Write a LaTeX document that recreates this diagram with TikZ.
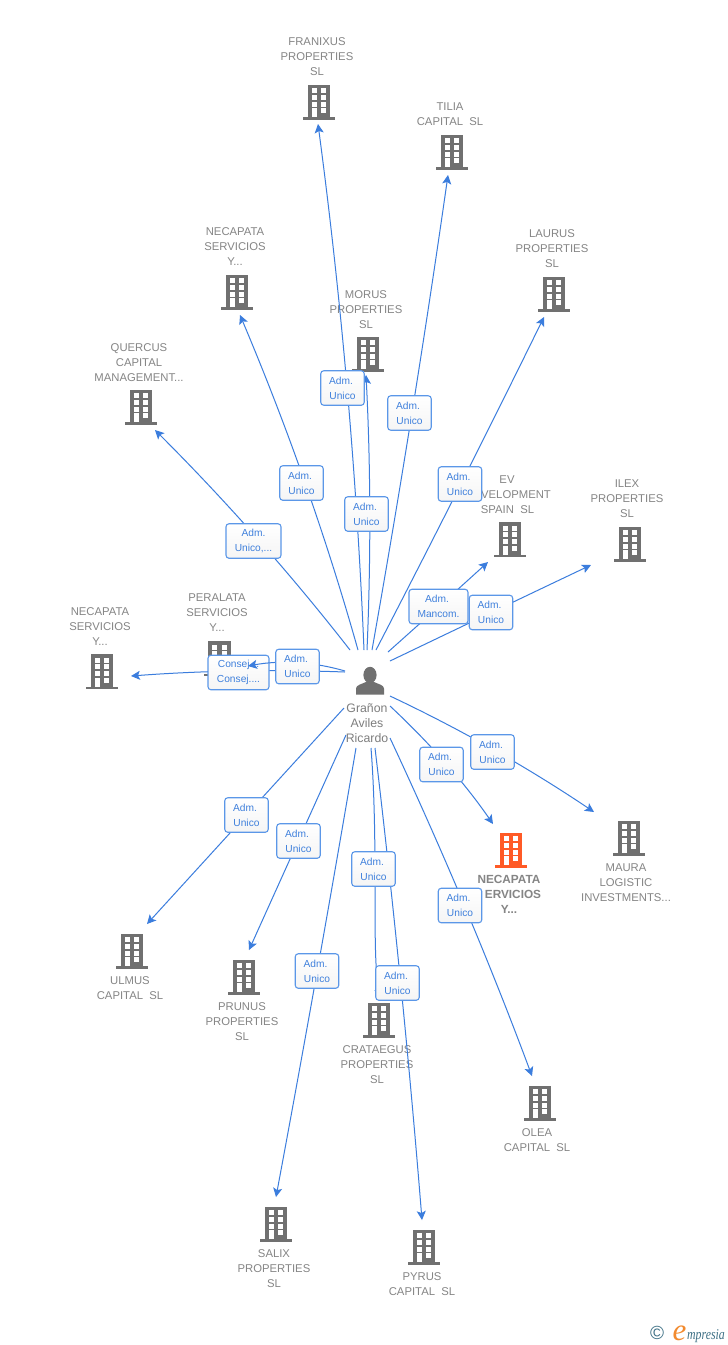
\documentclass[tikz,border=0pt]{standalone}
\usepackage{fontspec}
\setmainfont{Liberation Sans}
\newfontfamily\logofont{Liberation Serif}
\usetikzlibrary{arrows.meta,calc}
\definecolor{edgeblue}{HTML}{3B7DDD}
\definecolor{boxblue}{HTML}{5B97E8}
\definecolor{labblue}{HTML}{3F80DC}
\definecolor{bgray}{HTML}{707070}
\definecolor{tgray}{HTML}{858585}
\definecolor{redorg}{HTML}{FF5A26}
\definecolor{logoteal}{HTML}{3F7186}
\definecolor{logoorg}{HTML}{F28A2E}
\tikzset{
  conn/.style={draw=edgeblue,line width=1pt,-{Stealth[length=9pt,width=9pt,inset=2pt]}},
  lab/.style={draw=boxblue,line width=1.1pt,rounded corners=3pt,top color=white,bottom color=white!96!black,
    text=labblue,inner sep=0pt,align=center,font=\fontsize{10.2}{14.8}\selectfont,minimum height=34.5pt},
  nm/.style={text=tgray,align=center,inner sep=0pt,yshift=-1pt,font=\fontsize{11.3}{15}\selectfont},
  nmb/.style={text=tgray,inner sep=0pt,font=\bfseries\fontsize{11.8}{15}\selectfont},
  pers/.style={text=bgray!90,align=center,inner sep=0pt,font=\fontsize{12.3}{15}\selectfont},
  anchorbox/.style={inner sep=0pt,minimum width=31pt,minimum height=35pt},
}
\newcommand{\building}[4]{%
  \node[anchorbox] (#1) at (#2,#3) {};
  \begin{scope}[shift={(#2,#3)}]
    \fill[#4] (-11.3,-17.5) rectangle (11.3,15.2);
    \fill[#4] (-15.7,15.2) rectangle (15.7,17.5);
    \foreach \yy in {-13.6,-7.1,-0.3}{
      \fill[white] (-7.1,\yy) rectangle ++(4.8,4.9);
      \fill[white] (2.4,\yy) rectangle ++(4.8,4.9);
    }
    \fill[white] (2.4,6.4) rectangle ++(4.8,4.9);
    \fill[white] (-7.1,6.4) rectangle (-2.3,15.2);
  \end{scope}}
\newcommand{\edgeq}[4]{%
  \coordinate (#1s) at (#2);
  \coordinate (#1c) at (#3);
  \coordinate (#1e) at (#4);
  \draw[conn] (#1s) .. controls ($(#1s)!0.667!(#1c)$) and ($(#1e)!0.667!(#1c)$) .. (#1e);}
\begin{document}
\begin{tikzpicture}[x=1pt,y=-1pt]
\fill[white] (0,0) rectangle (728,1345);
\useasboundingbox (0,0) rectangle (728,1345);
% buildings
\building{franixus}{319}{102}{bgray}
\building{tilia}{452}{152}{bgray}
\building{necatop}{237}{292}{bgray}
\building{morus}{368}{354}{bgray}
\building{quercus}{141}{407}{bgray}
\building{laurus}{554}{294}{bgray}
\building{ev}{510}{539.5}{bgray}
\building{ilex}{630}{544}{bgray}
\building{peralata}{219.5}{658.5}{bgray}
\building{necaleft}{102}{671.5}{bgray}
\building{necared}{511}{850}{redorg}
\building{maura}{629}{838}{bgray}
\building{ulmus}{132}{951}{bgray}
\building{prunus}{244}{977}{bgray}
\building{crataegus}{379}{1020}{bgray}
\building{salix}{276}{1224}{bgray}
\building{pyrus}{424}{1247}{bgray}
\building{olea}{540}{1103}{bgray}
% person
\node[inner sep=0pt,minimum size=28pt] (person) at (370,681) {};
\fill[bgray] (370,675) ellipse (6.6 and 8.2);
\fill[bgray] (356,694.5) -- (356,688.5) .. controls (356,685) and (362,684) .. (366,682) -- (374,682) .. controls (378,684) and (384,685) .. (384,688.5) -- (384,694.5) -- cycle;
% names
\node[nm] (nfranixus) at (317,56) {FRANIXUS\\PROPERTIES\\SL};
\node[nm] (ntilia) at (450,113.5) {TILIA\\CAPITAL\ \ SL};
\node[nm] (nnecatop) at (235,246) {NECAPATA\\SERVICIOS\\Y...};
\node[nm] (nmorus) at (366,308.5) {MORUS\\PROPERTIES\\SL};
\node[nm] (nquercus) at (139,362) {QUERCUS\\CAPITAL\\MANAGEMENT...};
\node[nm] (nlaurus) at (552,248) {LAURUS\\PROPERTIES\\SL};
\node[nm] (nev1) at (507,479) {EV};
\node[nm] (nev2) at (516,494) {VELOPMENT};
\node[nm] (nev3) at (507.5,509) {SPAIN\ \ SL};
\node[nm] (nilex) at (627,498) {ILEX\\PROPERTIES\\SL};
\node[nm] (nperalata) at (217,612) {PERALATA\\SERVICIOS\\Y...};
\node[nm] (nnecaleft) at (100,626) {NECAPATA\\SERVICIOS\\Y...};
\node[nmb] (nred1) at (509,879) {NECAPATA};
\node[nmb] (nred2) at (513,894) {ERVICIOS};
\node[nmb] (nred3) at (509,909) {Y...};
\node[nm] (nmaura) at (626,882) {MAURA\\LOGISTIC\\INVESTMENTS...};
\node[nm] (nulmus) at (130,987.5) {ULMUS\\CAPITAL\ \ SL};
\node[nm] (nprunus) at (242,1021) {PRUNUS\\PROPERTIES\\SL};
\node[nm] (ncrataegus) at (377,1064) {CRATAEGUS\\PROPERTIES\\SL};
\node[nm] (nsalix) at (274,1268) {SALIX\\PROPERTIES\\SL};
\node[nm] (npyrus) at (422,1283.5) {PYRUS\\CAPITAL\ \ SL};
\node[nm] (nolea) at (537,1139.5) {OLEA\\CAPITAL\ \ SL};
\node[pers] (npersona) at (367,723) {Grañon\\Aviles\\Ricardo};
% edges
\edgeq{a}{364,650}{353,387}{318,124}
\edgeq{b}{372,650}{414,413}{448,175}
\edgeq{c}{367,650}{373,512}{366,375}
\edgeq{d}{358,650}{311,483}{240,315}
\edgeq{e}{350,650}{262,537}{155,430}
\edgeq{f}{376,650}{462,484}{544,317}
\edgeq{g}{388,652}{438.5,607}{488,562}
\edgeq{h}{390,661}{490,613}{591,565}
\edgeq{i}{345,672}{238,668}{131,676}
\edgeq{j}{344,708}{245.5,816}{147,924}
\edgeq{k}{346,735}{297.5,842.5}{249,950}
\edgeq{l}{356,748}{318,972}{276,1197}
\edgeq{m}{375,748}{403,984}{422,1220}
\coordinate (ns) at (371,748);
\coordinate (ne) at (381,998);
\draw[conn] (ns) .. controls (379,850) and (371,960) .. (ne);
\edgeq{o}{390,738}{469,907}{532,1076}
\edgeq{p}{390,706}{451,763}{493,824}
\edgeq{q}{390,696}{496,746}{594,812}
% labels
\node[lab,minimum width=61pt] (lconsej) at (238.5,672.5) {Consej. .\\Consej....};
\edgeq{r}{345,671}{297,657}{248,666}
\node[lab,minimum width=43.5pt] (la) at (342.5,388) {Adm.\kern3pt\\Unico};
\node[lab,minimum width=43.5pt] (lb) at (409.5,413) {Adm.\kern3pt\\Unico};
\node[lab,minimum width=43.5pt] (lc) at (366.5,514) {Adm.\kern3pt\\Unico};
\node[lab,minimum width=43.5pt] (ld) at (301.5,483) {Adm.\kern3pt\\Unico};
\node[lab,minimum width=55pt] (le) at (253.5,541) {Adm.\\Unico,...};
\node[lab,minimum width=43.5pt] (lf) at (460,484) {Adm.\kern3pt\\Unico};
\node[lab,minimum width=59pt] (lg) at (438.5,606.5) {Adm.\kern3pt\\Mancom.};
\node[lab,minimum width=43.5pt] (lh) at (491,612.5) {Adm.\kern3pt\\Unico};
\node[lab,minimum width=43.5pt] (lr) at (297.5,666.5) {Adm.\kern3pt\\Unico};
\node[lab,minimum width=43.5pt] (lj) at (246.5,815) {Adm.\kern3pt\\Unico};
\node[lab,minimum width=43.5pt] (lk) at (298.5,841) {Adm.\kern3pt\\Unico};
\node[lab,minimum width=43.5pt] (ll) at (317,971) {Adm.\kern3pt\\Unico};
\node[lab,minimum width=43.5pt] (ln) at (373.5,869) {Adm.\kern3pt\\Unico};
\node[lab,minimum width=43.5pt] (lm) at (397.5,983) {Adm.\kern3pt\\Unico};
\node[lab,minimum width=43.5pt] (lo) at (460,905.5) {Adm.\kern3pt\\Unico};
\node[lab,minimum width=43.5pt] (lp) at (441.5,764.5) {Adm.\kern3pt\\Unico};
\node[lab,minimum width=43.5pt] (lq) at (492.5,752) {Adm.\kern3pt\\Unico};
% logo
\node[inner sep=0pt,text=logoteal,font=\fontsize{19}{19}\selectfont] (logoc) at (657,1333) {©};
\node[inner sep=0pt,anchor=base,text=logoorg,font=\logofont\itshape\fontsize{31}{31}\selectfont] (logoe) at (679.5,1340) {e};
\node[inner sep=0pt,anchor=base west,xscale=0.79,transform shape,text=logoteal,font=\logofont\itshape\fontsize{15}{15}\selectfont] (logot) at (687,1339) {mpresia};
\end{tikzpicture}
\end{document}
